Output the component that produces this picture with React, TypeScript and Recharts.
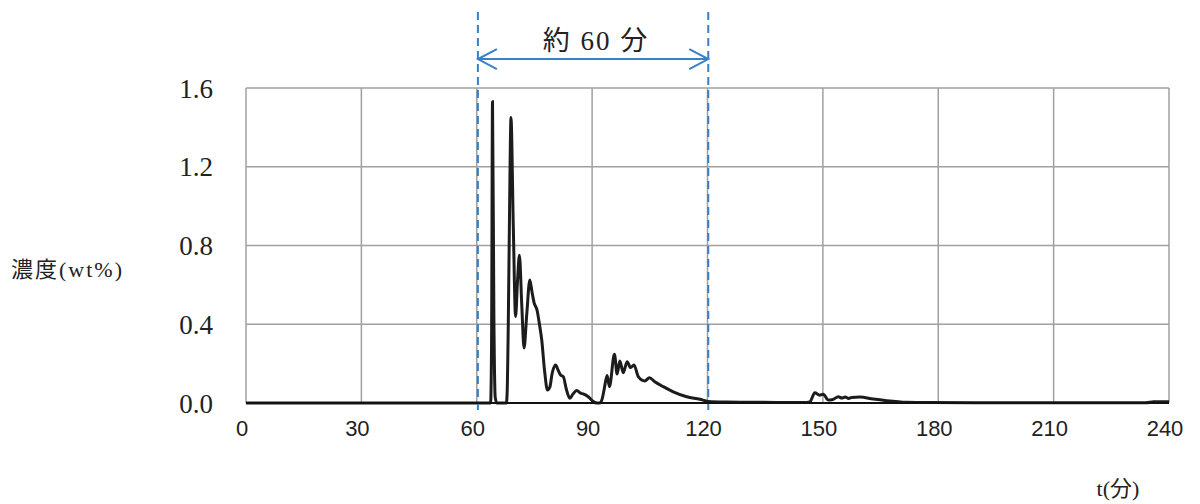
import { CartesianGrid, Line, LineChart, ReferenceLine, XAxis, YAxis } from 'recharts';

const times = [
  0, 30, 60, 63.0, 63.6, 63.85, 64.1, 64.45, 64.8, 65.2, 67.7, 67.9, 68.2, 68.6, 68.9, 69.5, 70.1, 70.6,
  71.1, 71.7, 72.3, 73.0, 73.8, 74.4, 74.9, 75.7, 76.3, 76.9, 77.6, 78.4, 79.0, 79.6, 80.5, 81.2,
  81.8, 82.5, 83.3, 84.2, 85.0, 86.0, 87.0, 87.7, 89.0, 90.3, 91.2, 92.0, 92.6, 93.1, 93.9, 94.5,
  95.8, 96.5, 97.2, 98.1, 99.1, 100.0, 100.9, 102.0, 103.7, 104.9, 106.3, 108.5, 111.1, 114.6,
  118.0, 120.2, 125, 130, 138, 145.8, 146.6, 147.9, 149.2, 150.1, 151.4, 152.6, 154.0, 154.9,
  155.8, 156.7, 157.5, 159.6, 163.1, 166.6, 171.8, 177.8, 190, 210, 234, 236, 240,
];

const concentration = [
  0, 0, 0, 0, 0, 0.3, 1.53, 0.45, 0.03, 0, 0, 0.05, 0.4, 1.1, 1.45, 0.9, 0.44, 0.62,
  0.75, 0.5, 0.28, 0.45, 0.625, 0.56, 0.51, 0.47, 0.4, 0.32, 0.17, 0.066, 0.08, 0.15, 0.193, 0.165,
  0.142, 0.134, 0.07, 0.024, 0.045, 0.063, 0.05, 0.046, 0.032, 0.007, 0, 0, 0.02, 0.066, 0.14, 0.083,
  0.247, 0.147, 0.213, 0.154, 0.21, 0.18, 0.193, 0.134, 0.112, 0.128, 0.108, 0.083, 0.057, 0.032,
  0.019, 0.008, 0.005, 0.004, 0.003, 0.002, 0.005, 0.052, 0.04, 0.045, 0.015, 0.018, 0.032, 0.025,
  0.03, 0.023, 0.028, 0.03, 0.02, 0.012, 0.004, 0.002, 0.001, 0.001, 0.001, 0.006, 0.006,
];

const xTicks = [0, 30, 60, 90, 120, 150, 180, 210, 240];
const yTicks = [0, 0.4, 0.8, 1.2, 1.6];

// 約60分 span markers
const spanStart = 60.3;
const spanEnd = 120.2;
const arrowLevel = 1.747;
const dashTop = 2.0;
const dashBottom = -0.036;

const data = times.map((t, i) => ({ t, c: concentration[i] }));

const BLUE = '#3b7fc4';
const SERIF = "'Liberation Serif', 'Noto Sans CJK JP', serif";

function SpanArrow(props: any) {
  const { x1, y1, x2 } = props;
  const mid = (x1 + x2) / 2;
  return (
    <g>
      <line x1={x1} y1={y1} x2={x2} y2={y1} stroke={BLUE} strokeWidth={2} />
      <polyline points={`${x1 + 19},${y1 - 10} ${x1},${y1} ${x1 + 19},${y1 + 10}`} fill="none" stroke={BLUE} strokeWidth={2} />
      <polyline points={`${x2 - 19},${y1 - 10} ${x2},${y1} ${x2 - 19},${y1 + 10}`} fill="none" stroke={BLUE} strokeWidth={2} />
      <text x={mid + 3} y={y1 - 9} textAnchor="middle" fontSize={27} fill="#222" letterSpacing={2}
        fontFamily={SERIF}>約 60 分</text>
    </g>
  );
}

export default function App() {
  return (
    <div style={{ position: 'absolute', left: 0, top: 0, width: 1200, height: 504, background: '#fff' }}>
      <LineChart width={1200} height={504} data={data} margin={{ top: 88, right: 31, bottom: 61, left: 166 }}>
        <CartesianGrid stroke="#a0a0a0" strokeWidth={1.5} />
        <XAxis
          dataKey="t"
          type="number"
          domain={[0, 240]}
          ticks={xTicks}
          height={40}
          tickSize={0}
          tickMargin={17}
          axisLine={{ stroke: '#111', strokeWidth: 2 }}
          tick={{ fontSize: 22, fill: '#222', dx: -4, fontFamily: "'Liberation Sans', Arial, sans-serif" }}
          label={{
            content: () => (
              <text x={1118} y={496} textAnchor="middle" fontSize={22} fill="#222" fontFamily={SERIF}>t(分)</text>
            ),
          }}
        />
        <YAxis
          type="number"
          domain={[0, 1.6]}
          ticks={yTicks}
          width={80}
          tickSize={0}
          tickMargin={33}
          axisLine={false}
          tickFormatter={(v: number) => v.toFixed(1)}
          tick={{ fontSize: 27, fill: '#222', fontFamily: "'Liberation Serif', 'Times New Roman', serif" }}
          label={{
            content: () => (
              <text x={11} y={277} fontSize={22} fill="#222" letterSpacing={2} fontFamily={SERIF}>濃度(wt%)</text>
            ),
          }}
        />
        <Line
          type="monotone"
          dataKey="c"
          stroke="#1c1c1c"
          strokeWidth={3}
          dot={false}
          isAnimationActive={false}
        />
        <ReferenceLine
          segment={[{ x: spanStart, y: dashBottom }, { x: spanStart, y: dashTop }]}
          ifOverflow="visible"
          stroke={BLUE}
          strokeWidth={2}
          strokeDasharray="8 5"
        />
        <ReferenceLine
          segment={[{ x: spanEnd, y: dashBottom }, { x: spanEnd, y: dashTop }]}
          ifOverflow="visible"
          stroke={BLUE}
          strokeWidth={2}
          strokeDasharray="8 5"
        />
        <ReferenceLine
          segment={[{ x: spanStart, y: arrowLevel }, { x: spanEnd, y: arrowLevel }]}
          ifOverflow="visible"
          shape={SpanArrow}
        />
      </LineChart>
    </div>
  );
}
